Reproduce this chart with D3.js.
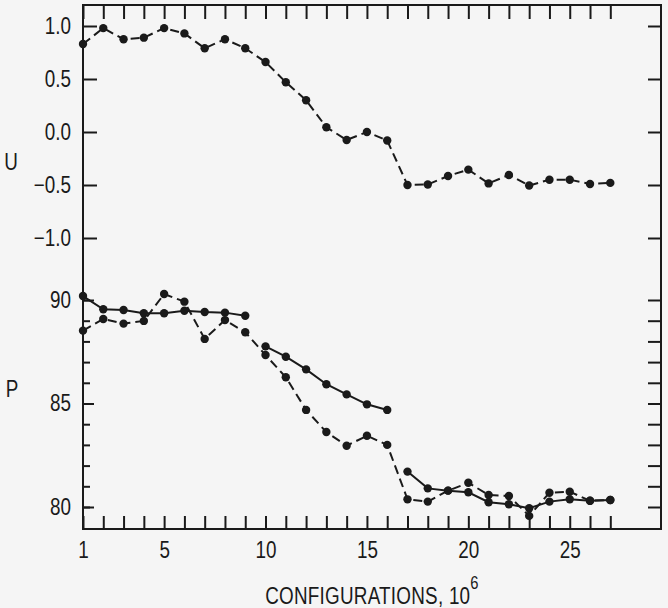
<!DOCTYPE html>
<html>
<head>
<meta charset="utf-8">
<script src="https://cdn.jsdelivr.net/npm/d3@7"></script>
<style>
  body { margin: 0; background: #f5f5f5; }
  svg { display: block; }
  text { font-family: "Liberation Sans", Arial, sans-serif; fill: #1a1a1a; }
</style>
</head>
<body>
<svg id="chart"></svg>
<script>
// configurations (10^6) along the bottom
const configs = [1, 2, 3, 4, 5, 6, 7, 8, 9, 10, 11, 12, 13, 14, 15, 16, 17, 18, 19, 20, 21, 22, 23, 24, 25, 26, 27];

// upper panel: U (dashed)
const uValues = [0.83, 0.98, 0.875, 0.89, 0.98, 0.93, 0.79, 0.875, 0.79, 0.66, 0.47, 0.30, 0.045,
  -0.075, 0.0, -0.08, -0.50, -0.495, -0.415, -0.355, -0.485, -0.405, -0.505, -0.45, -0.45, -0.49, -0.48];

// lower panel: P, dashed run over all configurations
const pDashed = [88.52, 89.08, 88.86, 88.99, 90.29, 89.92, 88.12, 89.03, 88.44, 87.34, 86.27, 84.69, 83.62,
  82.96, 83.44, 83.0, 80.37, 80.26, 80.79, 81.17, 80.58, 80.53, 79.57, 80.69, 80.74, 80.30, 80.34];

// lower panel: P, solid runs (three separate pieces)
const runAConfigs = [1, 2, 3, 4, 5, 6, 7, 8, 9];
const runAValues = [90.19, 89.55, 89.52, 89.36, 89.36, 89.48, 89.42, 89.39, 89.24];
const runBConfigs = [10, 11, 12, 13, 14, 15, 16];
const runBValues = [87.76, 87.26, 86.65, 85.93, 85.44, 84.96, 84.69];
const runCConfigs = [17, 18, 19, 20, 21, 22, 23, 24, 25, 26, 27];
const runCValues = [81.71, 80.90, 80.79, 80.71, 80.23, 80.13, 79.94, 80.26, 80.37, 80.30, 80.34];

// tick values
const xLabelTicks = [1, 5, 10, 15, 20, 25];
const uTicks = [-1.0, -0.5, 0.0, 0.5, 1.0];
const pMinorTicks = [80, 81, 82, 83, 84, 85, 86, 87, 88, 89, 90];
const pLabelTicks = [80, 85, 90];

const W = 668, H = 608;
const margin = { top: 5, right: 7, bottom: 79, left: 83 };
const iw = W - margin.left - margin.right;
const ih = H - margin.top - margin.bottom;
const ink = "#1a1a1a";
const narrow = 0.82; // squeeze text to look like the condensed typeface
const fontSize = 23;

const svg = d3.select("#chart").attr("width", W).attr("height", H);
const g = svg.append("g").attr("transform", `translate(${margin.left},${margin.top})`);

const x = d3.scaleLinear().domain([1, 29.5]).range([0, iw]);
const yU = d3.scaleLinear().domain([-1, 1]).range([233, 21]);
const yP = d3.scaleLinear().domain([80, 90]).range([502, 295]);

const fmtU = d => (d < 0 ? "\u2212" : "") + Math.abs(d).toFixed(1);

function styleAxis(sel) {
  sel.select(".domain").remove();
  sel.selectAll(".tick line").attr("stroke", ink).attr("stroke-width", 2);
  sel.selectAll(".tick text").attr("font-size", fontSize).attr("fill", ink)
    .style("font-family", "'Liberation Sans', Arial, sans-serif")
    .attr("x", function() { return +d3.select(this).attr("x") / narrow; })
    .attr("transform", `scale(${narrow},1)`);
}

// x axis: bottom and top, ticks inward
g.append("g").attr("transform", `translate(0,${ih})`)
  .call(d3.axisBottom(x).tickValues(configs).tickSize(-13).tickFormat(() => ""))
  .call(styleAxis);
g.append("g").attr("transform", `translate(0,${ih})`)
  .call(d3.axisBottom(x).tickValues(xLabelTicks).tickSize(0).tickPadding(13).tickFormat(d3.format("d")))
  .call(styleAxis);
g.append("g")
  .call(d3.axisTop(x).tickValues(configs).tickSize(-14).tickFormat(() => ""))
  .call(styleAxis);

// left U axis
g.append("g")
  .call(d3.axisLeft(yU).tickValues(uTicks).tickSize(-14).tickPadding(12).tickFormat(fmtU))
  .call(styleAxis);
// left P axis
g.append("g")
  .call(d3.axisLeft(yP).tickValues(pMinorTicks).tickSize(-7).tickFormat(() => ""))
  .call(styleAxis);
g.append("g")
  .call(d3.axisLeft(yP).tickValues(pLabelTicks).tickSize(-11).tickPadding(12).tickFormat(d3.format("d")))
  .call(styleAxis);
// right side ticks
g.append("g").attr("transform", `translate(${iw},0)`)
  .call(d3.axisRight(yU).tickValues(uTicks).tickSize(-13).tickFormat(() => ""))
  .call(styleAxis);
g.append("g").attr("transform", `translate(${iw},0)`)
  .call(d3.axisRight(yP).tickValues(pMinorTicks).tickSize(-13).tickFormat(() => ""))
  .call(styleAxis);

// frame
g.append("rect")
  .attr("width", iw).attr("height", ih)
  .attr("fill", "none").attr("stroke", ink).attr("stroke-width", 2);

// series
function drawSeries(xs, ys, yScale, dashed) {
  const pts = xs.map((c, i) => [c, ys[i]]);
  const line = d3.line().x(d => x(d[0])).y(d => yScale(d[1]));
  g.append("path")
    .datum(pts)
    .attr("d", line)
    .attr("fill", "none")
    .attr("stroke", ink)
    .attr("stroke-width", 2)
    .attr("stroke-dasharray", dashed ? "9,5" : null);
  g.append("g").selectAll("circle")
    .data(pts)
    .join("circle")
    .attr("cx", d => x(d[0]))
    .attr("cy", d => yScale(d[1]))
    .attr("r", 4.2)
    .attr("fill", ink);
}

drawSeries(configs, uValues, yU, true);
drawSeries(configs, pDashed, yP, true);
drawSeries(runAConfigs, runAValues, yP, false);
drawSeries(runBConfigs, runBValues, yP, false);
drawSeries(runCConfigs, runCValues, yP, false);

// axis names
function squeezedText(cx, cy, str) {
  return svg.append("g").attr("transform", `translate(${cx},${cy}) scale(${narrow},1)`)
    .append("text").attr("text-anchor", "middle").attr("dy", "0.35em")
    .attr("font-size", fontSize).text(str);
}
squeezedText(11, yU(-0.28) + margin.top, "U");
squeezedText(12, yP(85.7) + margin.top, "P");

const title = svg.append("g")
  .attr("transform", `translate(${margin.left + iw / 2},604) scale(${narrow},1)`)
  .append("text")
  .attr("text-anchor", "middle")
  .attr("font-size", fontSize)
  .attr("letter-spacing", 0.3);
title.append("tspan").text("CONFIGURATIONS, 10");
title.append("tspan").attr("dy", -15).attr("font-size", 18).text("6");
</script>
</body>
</html>
